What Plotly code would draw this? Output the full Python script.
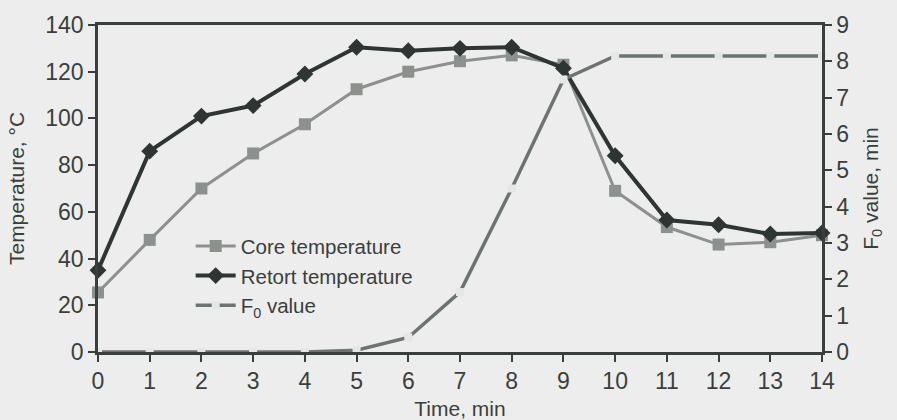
import plotly.graph_objects as go

time_min = list(range(15))
core_temp = [25.5, 48, 70, 85, 97.5, 112.5, 120, 124.5, 127, 123, 69, 53.5, 46, 47, 50]
retort_temp = [35, 86, 101, 105.5, 119, 130.5, 129, 130, 130.5, 121.5, 84, 56.5, 54.5, 50.5, 51]
f0_value = [0, 0, 0, 0, 0, 0.05, 0.4, 1.65, 4.5, 7.5, 8.15, 8.15, 8.15, 8.15, 8.15]

axis_col = "#3a3f3c"
font = dict(family="Liberation Sans, Arial, sans-serif", color=axis_col, size=23)

fig = go.Figure()
fig.add_trace(go.Scatter(
    x=time_min, y=f0_value, name="F<sub>0</sub> value", yaxis="y2",
    mode="lines+markers", cliponaxis=False,
    line=dict(color="#6d736f", width=3.5),
    marker=dict(symbol="square", size=8, color="#e4e7e5", line=dict(width=0)),
    legendrank=3,
))
fig.add_trace(go.Scatter(
    x=time_min, y=core_temp, name="Core temperature",
    mode="lines+markers", cliponaxis=False,
    line=dict(color="#8c918e", width=3),
    marker=dict(symbol="square", size=12, color="#8c918e"),
    legendrank=1,
))
fig.add_trace(go.Scatter(
    x=time_min, y=retort_temp, name="Retort temperature",
    mode="lines+markers", cliponaxis=False,
    line=dict(color="#2f3532", width=4),
    marker=dict(symbol="diamond", size=13, color="#2f3532"),
    legendrank=2,
))

fig.update_layout(
    width=897, height=420,
    margin=dict(l=98, r=75, t=25, b=68),
    paper_bgcolor="#ededed", plot_bgcolor="#ededed",
    font=font,
    showlegend=True,
    legend=dict(x=0.128, y=0.385, xanchor="left", yanchor="top",
                bgcolor="rgba(0,0,0,0)", font=dict(size=20.5, color=axis_col),
                itemwidth=40, tracegroupgap=0),
    xaxis=dict(range=[0, 14], dtick=1, showgrid=False, zeroline=False,
               showline=True, linecolor=axis_col, linewidth=2.5, mirror=True,
               ticks="outside", ticklen=7, tickwidth=2, tickcolor=axis_col,
               automargin=False,
               title=dict(text="Time, min", font=dict(size=21))),
    yaxis=dict(range=[0, 140], dtick=20, showgrid=False, zeroline=False,
               showline=True, linecolor=axis_col, linewidth=2.5,
               ticks="outside", ticklen=7, tickwidth=2, tickcolor=axis_col,
               automargin=False,
               title=dict(text="Temperature, °C", font=dict(size=21))),
    yaxis2=dict(range=[0, 9], dtick=1, overlaying="y", side="right",
                showgrid=False, zeroline=False,
                showline=True, linecolor=axis_col, linewidth=2.5,
                ticks="outside", ticklen=7, tickwidth=2, tickcolor=axis_col,
                automargin=False,
                title=dict(text="F<sub>0</sub> value, min", font=dict(size=21))),
)

fig.write_html("out.html", config={"displayModeBar": False},
               post_script="document.body.style.margin='0';")
